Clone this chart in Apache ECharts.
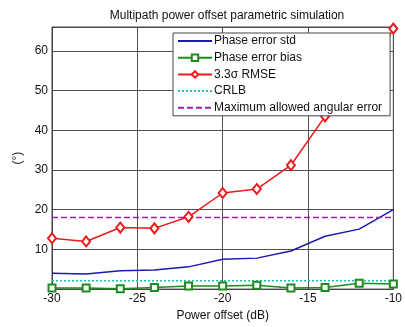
<!DOCTYPE html>
<html>
<head>
<meta charset="utf-8">
<script src="https://cdn.jsdelivr.net/npm/echarts@6/dist/echarts.min.js"></script>
<style>html,body{margin:0;padding:0;background:#fff}#c{width:405px;height:327px}</style>
</head>
<body>
<div id="c"></div>
<script>
const powerOffset = [-30, -28, -26, -24, -22, -20, -18, -16, -14, -12, -10];
const phaseStd   = [4.0, 3.8, 4.6, 4.8, 5.6, 7.5, 7.8, 9.6, 13.3, 15.1, 20.0];
const phaseBias  = [0.25, 0.25, 0.1, 0.4, 0.8, 0.8, 1.0, 0.25, 0.4, 1.5, 1.3];
const rmse       = [12.8, 12.0, 15.5, 15.3, 18.2, 24.2, 25.2, 31.2, 43.5, 50.0, 65.6];
const crlb       = [2.1, 2.1, 2.1, 2.1, 2.1, 2.1, 2.1, 2.1, 2.1, 2.1, 2.1];
const maxAllowed = [18, 18, 18, 18, 18, 18, 18, 18, 18, 18, 18];
const seriesNames = ['Phase error std', 'Phase error bias', '3.3\u03c3 RMSE', 'CRLB', 'Maximum allowed angular error'];
const xTicks = [-30, -25, -20, -15, -10];
const yTicks = [10, 20, 30, 40, 50, 60];

const pair = arr => powerOffset.map((x, i) => [x, arr[i]]);
const font = 'Liberation Sans, Arial, sans-serif';
const noMarker = new Set([seriesNames[0], seriesNames[3], seriesNames[4]]);

const chart = echarts.init(document.getElementById('c'), null, {renderer: 'canvas'});
chart.setOption({
  animation: false,
  backgroundColor: '#fff',
  title: {
    text: 'Multipath power offset parametric simulation',
    left: 222, top: 5, textAlign: 'center',
    textStyle: {fontFamily: font, fontSize: 12, fontWeight: 'normal', color: '#111'}
  },
  grid: {left: 52, right: 11, top: 27, bottom: 34, show: true, borderColor: '#444', borderWidth: 1},
  legend: {
    orient: 'vertical', left: 173, top: 33, z: 20,
    data: seriesNames.map(n => noMarker.has(n) ? {name: n, itemStyle: {opacity: 0}} : {name: n}),
    itemWidth: 34, itemHeight: 8, itemGap: 4.7,
    backgroundColor: '#fff', borderColor: '#444', borderWidth: 1,
    padding: [2, 8, 2, 4],
    textStyle: {fontFamily: font, fontSize: 12, color: '#111', padding: [0, 0, 0, -3]}
  },
  xAxis: {
    type: 'value', min: -30, max: -10, interval: 5,
    name: 'Power offset (dB)', nameLocation: 'middle', nameGap: 19,
    nameTextStyle: {fontFamily: font, fontSize: 12, color: '#111'},
    axisLine: {show: true, lineStyle: {color: '#444'}},
    axisTick: {show: true, inside: true, length: 3, lineStyle: {color: '#444'}},
    axisLabel: {fontFamily: font, fontSize: 12, color: '#111', margin: 4,
      formatter: v => xTicks.includes(v) ? String(v) : ''},
    splitLine: {show: true, lineStyle: {color: '#505050', width: 1}}
  },
  yAxis: {
    type: 'value', min: 0, max: 66, interval: 10,
    name: '(\u00b0)', nameLocation: 'middle', nameGap: 22, nameRotate: 90,
    nameTextStyle: {fontFamily: font, fontSize: 12, color: '#111'},
    axisLine: {show: true, lineStyle: {color: '#444'}},
    axisTick: {show: true, inside: true, length: 3, lineStyle: {color: '#444'}},
    axisLabel: {fontFamily: font, fontSize: 12, color: '#111', margin: 4,
      formatter: v => yTicks.includes(v) ? String(v) : ''},
    splitLine: {show: true, lineStyle: {color: '#505050', width: 1}}
  },
  series: [
    {name: seriesNames[0], type: 'line', data: pair(phaseStd), showSymbol: false, symbol: 'none',
     lineStyle: {color: '#1a1ab0', width: 1.5}, itemStyle: {color: '#1a1ab0'}, z: 2},
    {name: seriesNames[1], type: 'line', data: pair(phaseBias), symbol: 'emptyRect', symbolSize: 7,
     lineStyle: {color: '#1e8c1e', width: 1.5}, itemStyle: {color: '#1e8c1e', borderWidth: 1.5}, z: 3},
    {name: seriesNames[2], type: 'line', data: pair(rmse), symbol: 'emptyDiamond', symbolSize: [8, 10],
     lineStyle: {color: '#f01818', width: 1.5}, itemStyle: {color: '#f01818', borderWidth: 1.5}, z: 3},
    {name: seriesNames[3], type: 'line', data: pair(crlb), symbol: 'none',
     lineStyle: {color: '#20c0b0', width: 1.5, type: [2, 2]}, itemStyle: {color: '#20c0b0'}, z: 2},
    {name: seriesNames[4], type: 'line', data: pair(maxAllowed), symbol: 'none',
     lineStyle: {color: '#a020a0', width: 1.5, type: [6, 3]}, itemStyle: {color: '#a020a0'}, z: 2}
  ]
});
</script>
</body>
</html>
